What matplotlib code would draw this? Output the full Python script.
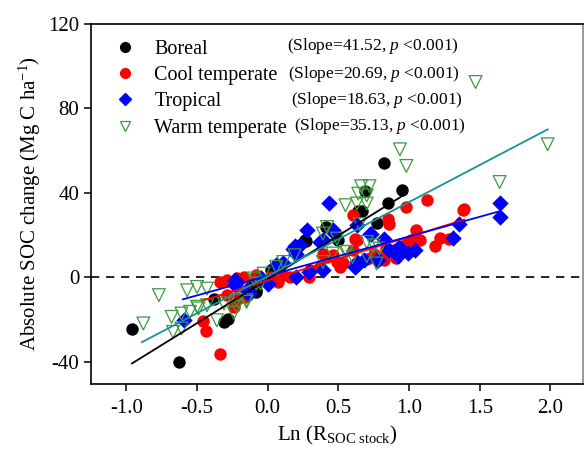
import numpy as np
import matplotlib
matplotlib.use("Agg")
import matplotlib.pyplot as plt
from matplotlib.lines import Line2D

plt.rcParams['font.family'] = ['Liberation Serif', 'DejaVu Serif']
plt.rcParams['mathtext.fontset'] = 'custom'
plt.rcParams['mathtext.rm'] = 'Liberation Serif'
plt.rcParams['mathtext.it'] = 'Liberation Serif:italic'
plt.rcParams['axes.unicode_minus'] = False

#
# Data.
#

boreal_x = [-0.96, -0.63, -0.31, -0.28, -0.38, -0.08, -0.085, 0.26, 0.27, 0.64,
            0.82, 0.69, 0.67, 0.85, 0.95, 0.77, 0.50, 0.02, -0.10, 0.41, 0.09]
boreal_y = [-24.6, -40.1, -21.2, -19.6, -10.1, -6.2, -7.0, 17.8, 17.0, 31.2,
            54.3, 40.9, 31.2, 35.2, 41.5, 25.9, 17.5, 3.3, -2.2, 24.0, 5.7]

cool_x = [-0.34, -0.44, -0.46, -0.24, -0.34, -0.29, -0.22, -0.29, -0.08, -0.20,
          0.60, 0.62, 0.42, 0.49, 0.30, 0.37, 0.51, -0.16, 0.16, 0.075,
          0.98, 1.13, 0.85, 0.86, 1.05, 1.08, 1.01, 1.22, 1.18, 1.28,
          1.38, 1.39, 0.63, 0.70, 0.84, 0.91, 0.82, 0.98, 0.53, 0.60,
          0.75, 0.89, 0.46, 0.39, 0.29, 0.02, -0.17, 0.11, 0.81]
cool_y = [-36.4, -25.6, -20.8, -14.0, -2.2, -1.4, -0.2, -8.5, 1.0, -10.0,
          29.3, 18.3, 9.6, 7.2, 3.3, 4.9, 4.9, -9.3, 0.2, -2.2,
          33.3, 36.5, 27.8, 25.4, 22.6, 17.8, 17.5, 18.8, 14.7, 18.3,
          31.7, 32.5, 17.8, 8.4, 13.6, 9.3, 8.0, 15.9, 6.5, 12.8,
          11.2, 12.8, 10.4, 11.2, 0.2, 0.2, 0.2, 1.0, 9.6]

trop_x = [-0.59, -0.23, -0.23, -0.125, -0.22, -0.14, 0.43, 0.28, 0.19, 0.23,
          0.20, 0.37, 0.46, 0.39, 0.20, 0.06, -0.05, 0.29, 0.63, 0.68,
          0.72, 0.77, 0.82, 0.63, 0.73, 0.62, 0.78, 0.86, 0.93, 0.92,
          0.99, 1.04, 1.31, 1.35, 1.64, 1.64, 0.18, 0.39, 0.46, 0.63,
          0.11, -0.15, 0.0]
trop_y = [-20.4, -3.8, -1.5, -7.7, -2.2, -7.7, 35.4, 22.6, 14.7, 15.1,
          11.2, 16.7, 22.2, 3.3, 0.2, 5.7, -0.6, 2.5, 5.7, 8.0,
          20.7, 8.0, 18.3, 24.6, 20.7, 4.9, 8.0, 12.8, 14.3, 9.9,
          11.5, 12.8, 18.8, 25.1, 35.2, 28.5, 13.6, 17.5, 21.4, 7.2,
          6.5, -6.2, -3.0]

warm_x = [1.98, 1.47, 1.64, 0.935, 0.98, 0.66, 0.72, 0.64, 0.70, 0.63,
          0.70, 0.55, 0.65, 0.70, 0.75, 0.79, 0.70, 0.77, 0.55, 0.60,
          0.42, 0.39, 0.49, 0.56, 0.46, 0.39, 0.19, 0.11, 0.06, -0.03,
          -0.10, -0.08, -0.15, -0.22, -0.24, -0.31, -0.36, -0.43, -0.50, -0.57,
          -0.50, -0.55, -0.61, -0.68, -0.67, -0.77, -0.88, -0.43, -0.49, -0.22,
          -0.15, -0.61, -0.05]
warm_y = [63.0, 92.5, 45.1, 60.6, 52.7, 43.1, 43.1, 39.6, 38.8, 34.9,
          34.9, 34.1, 25.1, 16.7, 15.1, 13.6, 9.9, 6.5, 12.0, 9.6,
          23.8, 20.7, 18.3, 12.0, 11.2, 7.2, 10.4, 7.2, 4.9, 1.7,
          -0.6, -3.0, -11.7, -14.0, -16.9, -12.5, -20.4, -13.3, -4.6, -6.2,
          -14.0, -16.4, -17.2, -18.8, -25.9, -8.5, -21.9, -5.4, -14.8, -10.9,
          -10.9, -24.3, -3.0]

labels = ['Boreal', 'Cool temperate', 'Tropical', 'Warm temperate']
slopes = [41.52, 20.69, 18.63, 35.13]
intercepts = [-1.0, -1.5, 0.7, 0.5]
fit_xmin = [-0.96, -0.455, -0.60, -0.89]
fit_xmax = [0.96, 1.39, 1.64, 1.98]

xticks = [-1.0, -0.5, 0.0, 0.5, 1.0, 1.5, 2.0]
yticks = [-40, 0, 40, 80, 120]

#
# Figure.
#

fig = plt.figure(figsize=(5.85, 4.58), dpi=100)
ax = fig.add_axes([0.1556, 0.1616, 0.841, 0.786])

ax.axhline(0, color='black', lw=1.2, ls=(0, (5, 4)), zorder=1)

ms = 80
h1 = ax.scatter(boreal_x, boreal_y, s=ms, c='black', marker='o', lw=0, zorder=2)
h2 = ax.scatter(cool_x, cool_y, s=ms, c='#ff0000', marker='o', lw=0, zorder=3)
h3 = ax.scatter(trop_x, trop_y, s=70, c='#0000ff', marker='D', lw=0, zorder=4)
h4 = ax.scatter(warm_x, warm_y, s=85, facecolors='none', edgecolors='#3c9a3c',
                marker='v', lw=0.9, zorder=5)

line_colors = ['black', '#ff0000', '#0000ff', '#149494']
for k in range(4):
    xs = np.array([fit_xmin[k], fit_xmax[k]])
    ax.plot(xs, slopes[k] * xs + intercepts[k], color=line_colors[k], lw=1.3, zorder=6)

ax.set_xlim(-1.25, 2.23)
ax.set_ylim(-50.6, 120)
ax.set_xticks(xticks)
ax.set_xticklabels(['%.1f' % t for t in xticks])
ax.set_yticks(yticks)
ax.tick_params(direction='out', length=5, width=1.1, labelsize=15, top=False, right=False)
ax.tick_params(axis='x', pad=6)
for sp in ax.spines.values():
    sp.set_linewidth(1.2)
ax.spines['right'].set_color('#888888')

ax.set_xlabel(r'Ln (R$_{\mathregular{SOC\ stock}}$)', fontsize=15, labelpad=4)
ax.set_ylabel(r'Absolute SOC change (Mg C ha$^{\mathregular{-1}}$)', fontsize=15, labelpad=4)

#
# Legend and slope notes.
#

handles = [
    Line2D([], [], ls='', marker='o', color='black', markersize=7),
    Line2D([], [], ls='', marker='o', color='#ff0000', markersize=7),
    Line2D([], [], ls='', marker='D', color='#0000ff', markersize=6),
    Line2D([], [], ls='', marker='v', markerfacecolor='none', markeredgecolor='#3c9a3c',
           markersize=7.5, markeredgewidth=0.9),
]
ax.legend(handles, labels, loc='upper left', bbox_to_anchor=(0.02, 0.99), frameon=False,
          fontsize=14.5, labelspacing=0.36, handletextpad=0.85, handlelength=1.2,
          borderaxespad=0.2)

note_x = [0.399, 0.401, 0.406, 0.412]
note_y = [0.938, 0.862, 0.79, 0.718]
for k in range(4):
    ax.text(note_x[k], note_y[k], '(Slope=%.2f, $p$ <0.001)' % slopes[k],
            transform=ax.transAxes, ha='left', va='center', fontsize=12.5, zorder=7)

fig.savefig('out.png', dpi=100)
